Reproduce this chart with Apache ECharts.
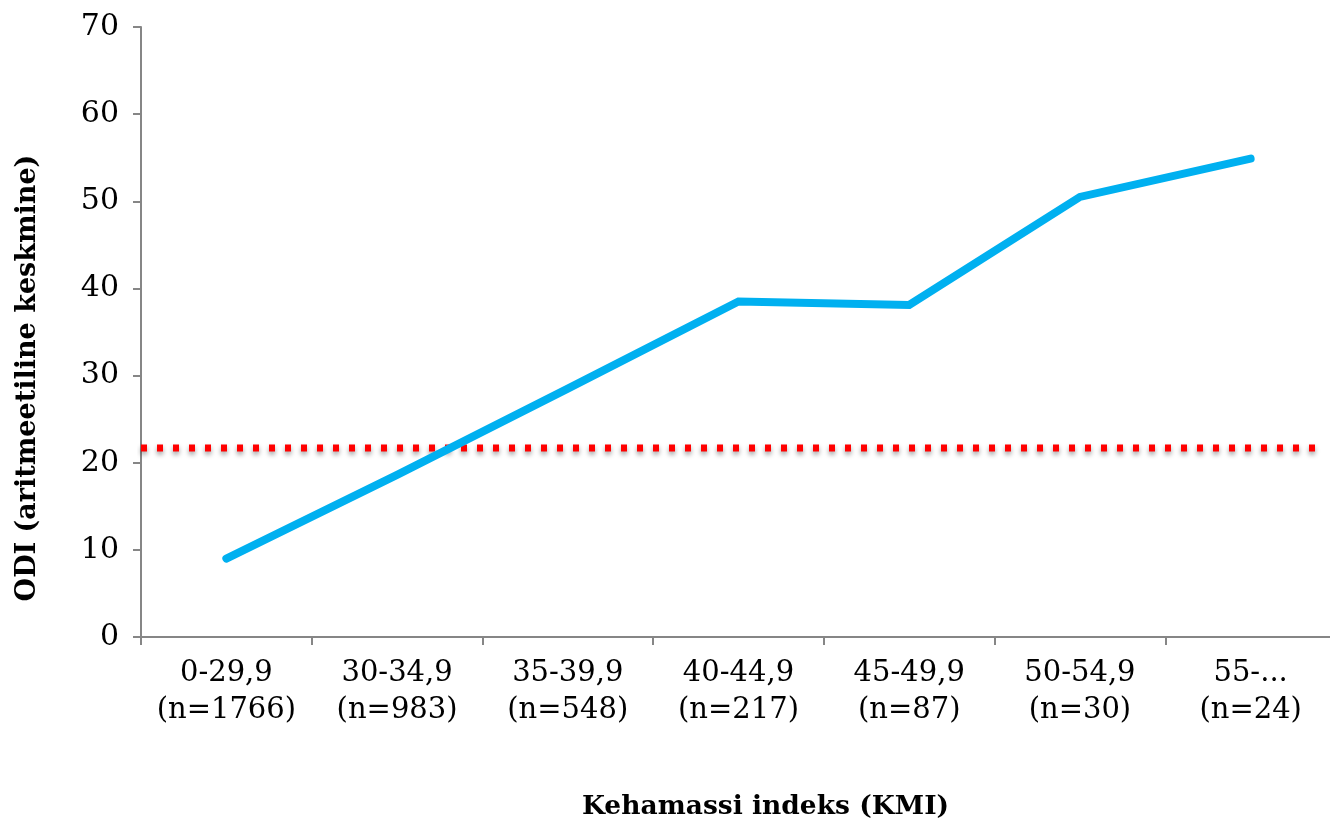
<!DOCTYPE html>
<html>
<head>
<meta charset="utf-8">
<script src="https://cdn.jsdelivr.net/npm/echarts@6/dist/echarts.min.js"></script>
<style>
  html, body { margin: 0; padding: 0; background: #fff; overflow: hidden; }
  #chart { width: 1330px; height: 822px; }
</style>
</head>
<body>
<div id="chart"></div>
<script>
// BMI groups with sample sizes
const categories = [
  '0-29,9\n(n=1766)',
  '30-34,9\n(n=983)',
  '35-39,9\n(n=548)',
  '40-44,9\n(n=217)',
  '45-49,9\n(n=87)',
  '50-54,9\n(n=30)',
  '55-...\n(n=24)'
];
// Mean ODI per BMI group
const odiMean = [9.0, 18.6, 28.5, 38.5, 38.1, 50.5, 54.9];
// Reference level (overall mean) and its horizontal extent in category units
const refLevel = 21.7;
const refSpan = [0, 6.9];
const yTicks = { min: 0, max: 70, interval: 10 };

const FONT = '"DejaVu Serif", serif';
const AXIS_GREY = '#868686';

const chart = echarts.init(document.getElementById('chart'), null, { renderer: 'canvas' });

chart.setOption({
  animation: false,
  backgroundColor: '#ffffff',
  grid: {
    left: 141, top: 27, right: -6, bottom: 185,
    containLabel: false,
    outerBoundsMode: 'none'
  },
  xAxis: [
    {
      type: 'category',
      data: categories,
      boundaryGap: true,
      axisLine: { lineStyle: { color: AXIS_GREY, width: 2 } },
      axisTick: { show: true, length: 8, inside: false, lineStyle: { color: AXIS_GREY, width: 2 } },
      axisLabel: {
        color: '#000', fontFamily: FONT, fontSize: 29, lineHeight: 37, margin: 18, interval: 0
      },
      name: 'Kehamassi indeks (KMI)',
      nameLocation: 'middle',
      nameGap: 157,
      nameTextStyle: { color: '#000', fontFamily: FONT, fontWeight: 'bold', fontSize: 26.5, padding: [0, 0, 0, 54] }
    },
    {
      type: 'value',
      min: 0, max: 7,
      show: false
    }
  ],
  yAxis: {
    type: 'value',
    min: yTicks.min, max: yTicks.max, interval: yTicks.interval,
    splitLine: { show: false },
    axisLine: { show: true, lineStyle: { color: AXIS_GREY, width: 2 } },
    axisTick: { show: true, length: 8, lineStyle: { color: AXIS_GREY, width: 2 } },
    axisLabel: { color: '#000', fontFamily: FONT, fontSize: 30, margin: 22 },
    name: 'ODI (aritmeetiline keskmine)',
    nameLocation: 'middle',
    nameRotate: 90,
    nameGap: 100,
    nameTextStyle: { color: '#000', fontFamily: FONT, fontWeight: 'bold', fontSize: 27, padding: [0, 92, 0, 0] }
  },
  series: [
    {
      name: 'Keskmine',
      type: 'line',
      xAxisIndex: 1,
      data: refSpan.map(x => [x, refLevel]),
      symbol: 'none',
      z: 2,
      lineStyle: {
        color: '#ff0000', width: 7, type: [6, 10], cap: 'butt',
        shadowColor: 'rgba(0,0,0,0.4)', shadowBlur: 5, shadowOffsetY: 3
      }
    },
    {
      name: 'ODI',
      type: 'line',
      xAxisIndex: 0,
      data: odiMean,
      symbol: 'none',
      z: 3,
      lineStyle: { color: '#00b0f0', width: 8, cap: 'round', join: 'miter' }
    }
  ]
});
</script>
</body>
</html>
